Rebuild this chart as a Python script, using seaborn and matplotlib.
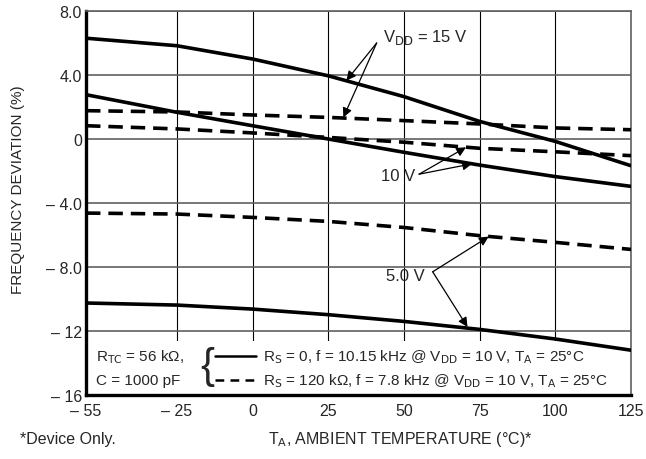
import numpy as np
import pandas as pd
import seaborn as sns
import matplotlib as mpl
from matplotlib import pyplot as plt
from matplotlib.patches import Rectangle

# Frequency deviation vs ambient temperature
temps = [-55, -25, 0, 25, 50, 75, 100, 125]
vdd15_solid = [6.3, 5.83, 5.0, 3.95, 2.65, 1.1, -0.15, -1.67]
vdd15_dashed = [1.77, 1.69, 1.5, 1.35, 1.15, 0.94, 0.69, 0.58]
vdd10_solid = [2.77, 1.67, 0.83, 0.0, -0.83, -1.63, -2.35, -2.96]
vdd10_dashed = [0.83, 0.63, 0.38, 0.1, -0.2, -0.58, -0.8, -1.04]
vdd5_dashed = [-4.63, -4.69, -4.9, -5.15, -5.53, -6.04, -6.46, -6.9]
vdd5_solid = [-10.25, -10.38, -10.63, -10.98, -11.4, -11.9, -12.5, -13.2]

x_ticks = [-55, -25, 0, 25, 50, 75, 100, 125]
x_tick_labels = ["\u2013 55", "\u2013 25", "0", "25", "50", "75", "100", "125"]
y_ticks = [8, 4, 0, -4, -8, -12, -16]
y_tick_labels = ["8.0", "4.0", "0", "\u2013 4.0", "\u2013 8.0", "\u2013 12", "\u2013 16"]

curves = {
    "15 V solid": (vdd15_solid, "solid"),
    "15 V dashed": (vdd15_dashed, "dashed"),
    "10 V solid": (vdd10_solid, "solid"),
    "10 V dashed": (vdd10_dashed, "dashed"),
    "5 V dashed": (vdd5_dashed, "dashed"),
    "5 V solid": (vdd5_solid, "solid"),
}
rows = []
for name, (vals, kind) in curves.items():
    for t, v in zip(temps, vals):
        rows.append((t, v, name, kind))
df = pd.DataFrame(rows, columns=["temp", "dev", "curve", "kind"])

sns.set_style("white")
plt.rcParams["font.family"] = ["Liberation Sans", "DejaVu Sans"]

fig = plt.figure(figsize=(6.46, 4.6), dpi=100)
ax = fig.add_axes([86 / 646, 1 - 396 / 460, 545 / 646, 384 / 460])

sns.lineplot(data=df, x="temp", y="dev", units="curve", estimator=None,
             style="kind", dashes={"solid": "", "dashed": (4, 2.2)},
             color="black", linewidth=2.6, legend=False, ax=ax, zorder=3)

ax.set_xlim(-55, 125)
ax.set_ylim(-16, 8)
ax.set_xticks(x_ticks)
ax.set_xticklabels(x_tick_labels, fontsize=11.5)
ax.set_yticks(y_ticks)
ax.set_yticklabels(y_tick_labels, fontsize=11.5)
ax.set_xlabel("")
ax.set_ylabel("")
ax.tick_params(axis="x", direction="in", length=4, width=0.8, pad=6)
ax.tick_params(axis="y", length=0, pad=3)

ax.set_axisbelow(True)
ax.grid(axis="y", color="#606060", linewidth=1.2)
ax.grid(axis="x", color="black", linewidth=0.8)
for side in ["top", "right"]:
    ax.spines[side].set_color("#606060")
    ax.spines[side].set_linewidth(1.2)
for side in ["left", "bottom"]:
    ax.spines[side].set_color("black")
    ax.spines[side].set_linewidth(2.4)

# white key box over the lower grid
ax.add_patch(Rectangle((0, 0), 1, 0.14, transform=ax.transAxes,
                       facecolor="white", edgecolor="none", zorder=1))
ax.text(0.018, 0.1016, "R$_{\\rm TC}$ = 56 k\u03a9,", transform=ax.transAxes,
        fontsize=11, va="center", ha="left")
ax.text(0.018, 0.039, "C = 1000 pF", transform=ax.transAxes,
        fontsize=11, va="center", ha="left")
ax.text(0.222, 0.075, "{", transform=ax.transAxes, fontsize=30,
        va="center", ha="center")
ax.plot([0.237, 0.312], [0.1016, 0.1016], transform=ax.transAxes,
        color="black", linewidth=1.8)
ax.plot([0.237, 0.312], [0.039, 0.039], transform=ax.transAxes,
        color="black", linewidth=1.8, dashes=(3.5, 2.5))
ax.text(0.325, 0.1016, "R$_{\\rm S}$ = 0, f = 10.15 kHz @ V$_{\\rm DD}$ = 10 V, T$_{\\rm A}$ = 25\u00b0C",
        transform=ax.transAxes, fontsize=11, va="center", ha="left")
ax.text(0.325, 0.039, "R$_{\\rm S}$ = 120 k\u03a9, f = 7.8 kHz @ V$_{\\rm DD}$ = 10 V, T$_{\\rm A}$ = 25\u00b0C",
        transform=ax.transAxes, fontsize=11, va="center", ha="left")

# curve annotations
arrow = dict(arrowstyle="-|>", color="black", linewidth=0.9, mutation_scale=14,
             shrinkA=0, shrinkB=0)
ax.text(43, 6.4, "V$_{\\rm DD}$ = 15 V", fontsize=12, va="center", ha="left")
ax.annotate("", xy=(31, 3.65), xytext=(41, 6.0), arrowprops=arrow)
ax.annotate("", xy=(30, 1.35), xytext=(41, 6.0), arrowprops=arrow)
ax.text(48, -2.25, "10 V", fontsize=12, va="center", ha="center")
ax.annotate("", xy=(70.5, -0.52), xytext=(55, -2.2), arrowprops=arrow)
ax.annotate("", xy=(72.5, -1.55), xytext=(55, -2.2), arrowprops=arrow)
ax.text(50.5, -8.56, "5.0 V", fontsize=12, va="center", ha="center")
ax.annotate("", xy=(78, -6.1), xytext=(59.5, -8.3), arrowprops=arrow)
ax.annotate("", xy=(71, -11.75), xytext=(59.5, -8.3), arrowprops=arrow)

fig.text(18 / 646, 1 - 190 / 460, "FREQUENCY DEVIATION (%)", rotation=90,
         fontsize=11, va="center", ha="center")
fig.text(20 / 646, 1 - 440 / 460, "*Device Only.", fontsize=11.5, va="center", ha="left")
fig.text(400 / 646, 1 - 440 / 460, "T$_{\\rm A}$, AMBIENT TEMPERATURE (\u00b0C)*",
         fontsize=11.5, va="center", ha="center")

fig.savefig("out.png", dpi=100)
